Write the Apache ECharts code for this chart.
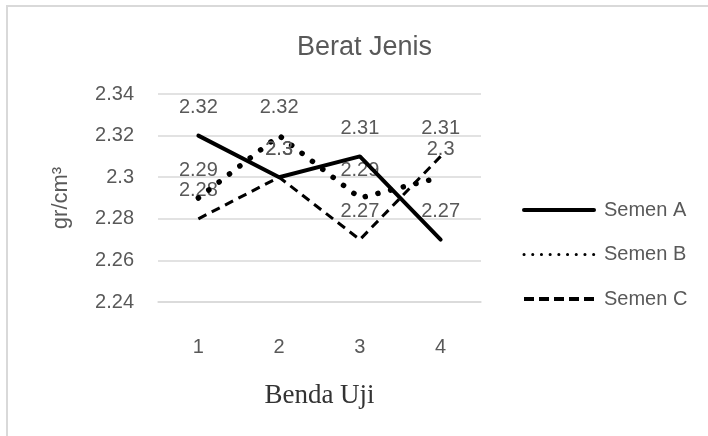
<!DOCTYPE html>
<html>
<head>
<meta charset="utf-8">
<script src="https://cdn.jsdelivr.net/npm/echarts@6/dist/echarts.min.js"></script>
<style>html,body{margin:0;padding:0;background:#fff;}#c{width:708px;height:436px;}</style>
</head>
<body>
<div id="c"></div>
<script>
var categories = ['1', '2', '3', '4'];
var semenA = [2.32, 2.30, 2.31, 2.27];
var semenB = [2.29, 2.32, 2.29, 2.30];
var semenC = [2.28, 2.30, 2.27, 2.31];
var seriesNames = ['Semen A', 'Semen B', 'Semen C'];
var yTicks = [2.24, 2.26, 2.28, 2.30, 2.32, 2.34];

var FONT = '"Liberation Sans", Arial, sans-serif';
var GREY = '#595959';
var chart = echarts.init(document.getElementById('c'), null, {renderer: 'canvas'});

var labelCfg = {show: true, position: 'top', distance: 17, color: GREY, fontSize: 20, fontFamily: FONT,
  formatter: function (p) { return String(+(+p.value).toFixed(2)); }};

var styleA = {color: '#000', width: 4, cap: 'round', join: 'round'};
var styleB = {color: '#000', width: 5.5, type: [0.1, 13], cap: 'round'};
var styleC = {color: '#000', width: 3, type: [9, 6]};

chart.setOption({
  backgroundColor: '#fff',
  animation: false,
  graphic: [{type: 'rect', shape: {x: 7, y: 6, width: 900, height: 600},
    style: {fill: 'none', stroke: '#d9d9d9', lineWidth: 2}, silent: true}],
  title: {text: 'Berat Jenis', left: 292, top: 29,
    textStyle: {color: GREY, fontSize: 27, fontWeight: 'normal', fontFamily: FONT}},
  legend: {orient: 'vertical', left: 517, top: 195, itemWidth: 70, itemHeight: 20, itemGap: 24.5,
    data: [
      {name: seriesNames[0], lineStyle: {width: 4, type: 'solid', cap: 'round'}},
      {name: seriesNames[1], lineStyle: {width: 3, type: [0.1, 8.6], cap: 'round'}},
      {name: seriesNames[2], lineStyle: {width: 4, type: [10, 5]}}
    ],
    textStyle: {color: GREY, fontSize: 20, fontFamily: FONT, padding: [0, 0, 0, 5]}},
  grid: {left: 158, right: 227, top: 94, bottom: 134, containLabel: false},
  xAxis: {type: 'category', data: categories, boundaryGap: true,
    axisLine: {lineStyle: {color: '#d9d9d9', width: 1.5}}, axisTick: {show: false},
    axisLabel: {color: GREY, fontSize: 20, fontFamily: FONT, margin: 35},
    name: 'Benda Uji', nameLocation: 'middle', nameGap: 80,
    nameTextStyle: {color: '#333', fontSize: 27, fontFamily: '"Liberation Serif", "Times New Roman", serif'}},
  yAxis: {type: 'value', min: yTicks[0], max: yTicks[yTicks.length - 1], interval: 0.02,
    axisLine: {show: false}, axisTick: {show: false},
    splitLine: {lineStyle: {color: '#d9d9d9', width: 1.5}},
    axisLabel: {color: GREY, fontSize: 20, fontFamily: FONT, margin: 24,
      formatter: function (v) { return String(+v.toFixed(2)); }},
    name: 'gr/cm\u00B3', nameLocation: 'middle', nameGap: 86, nameRotate: 90,
    nameTextStyle: {color: GREY, fontSize: 22, fontFamily: FONT}},
  series: [
    {name: seriesNames[0], type: 'line', data: semenA, symbol: 'circle', symbolSize: 2, showSymbol: true, z: 4,
      lineStyle: styleA, itemStyle: {color: 'rgba(0,0,0,0)'}, label: labelCfg},
    {name: seriesNames[1], type: 'line', data: semenB, symbol: 'circle', symbolSize: 2, showSymbol: true, z: 3,
      lineStyle: styleB, itemStyle: {color: 'rgba(0,0,0,0)'}, label: labelCfg},
    {name: seriesNames[2], type: 'line', data: semenC, symbol: 'circle', symbolSize: 2, showSymbol: true, z: 2,
      lineStyle: styleC, itemStyle: {color: 'rgba(0,0,0,0)'}, label: labelCfg}
  ]
});
</script>
</body>
</html>
